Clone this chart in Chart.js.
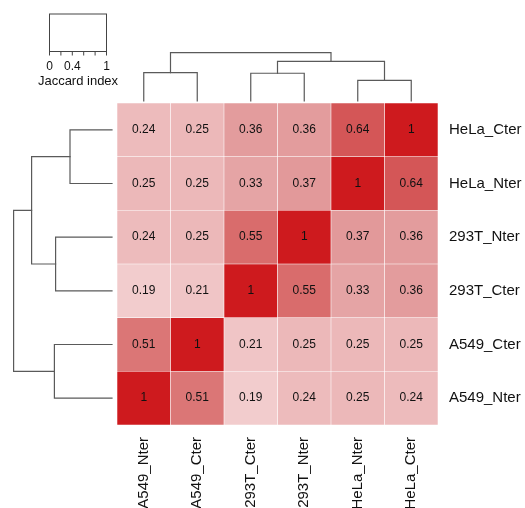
<!DOCTYPE html>
<html><head><meta charset="utf-8">
<script src="https://cdn.jsdelivr.net/npm/chart.js@4"></script>
<style>html,body{margin:0;padding:0;background:#fff;}canvas{display:block;}</style>
</head><body>
<canvas id="c" width="525" height="508" style="width:525px;height:508px"></canvas>
<script>
// ---- data ----
const columnLabels = ['A549_Nter','A549_Cter','293T_Cter','293T_Nter','HeLa_Nter','HeLa_Cter'];
const rowLabels    = ['A549_Nter','A549_Cter','293T_Cter','293T_Nter','HeLa_Nter','HeLa_Cter']; // bottom to top
const rowA549_Nter = [1, 0.51, 0.19, 0.24, 0.25, 0.24];
const rowA549_Cter = [0.51, 1, 0.21, 0.25, 0.25, 0.25];
const row293T_Cter = [0.19, 0.21, 1, 0.55, 0.33, 0.36];
const row293T_Nter = [0.24, 0.25, 0.55, 1, 0.37, 0.36];
const rowHeLa_Nter = [0.25, 0.25, 0.33, 0.37, 1, 0.64];
const rowHeLa_Cter = [0.24, 0.25, 0.36, 0.36, 0.64, 1];
const matrixRows = [rowA549_Nter, rowA549_Cter, row293T_Cter, row293T_Nter, rowHeLa_Nter, rowHeLa_Cter];
// dendrogram (leaves 0..5 in display order, merge k creates node 6+k)
const treeMerges  = [[4,5],[2,3],[0,1],[7,6],[8,9]];
const treeHeights = [0.35, 0.47, 0.48, 0.67, 0.82];
// colour key
const keyTicks = [0, 0.2, 0.4, 0.6, 0.8, 1];
const keyTickLabels = ['0', '', '0.4', '', '', '1'];
const keyTitle = 'Jaccard index';

// ---- styles ----
const colorStops = [[0.19,242,204,205],[0.25,236,184,185],[0.36,227,156,157],[0.55,217,108,108],[0.64,212,86,87],[1,206,26,30]];
function cellColor(v){
  if (v <= colorStops[0][0]) { const s=colorStops[0]; return `rgb(${s[1]},${s[2]},${s[3]})`; }
  for (let i=1;i<colorStops.length;i++){
    const a=colorStops[i-1], b=colorStops[i];
    if (v <= b[0]) {
      const t=(v-a[0])/(b[0]-a[0]);
      return `rgb(${Math.round(a[1]+(b[1]-a[1])*t)},${Math.round(a[2]+(b[2]-a[2])*t)},${Math.round(a[3]+(b[3]-a[3])*t)})`;
    }
  }
  const s=colorStops[colorStops.length-1]; return `rgb(${s[1]},${s[2]},${s[3]})`;
}
const FONT = '"Liberation Sans", Arial, Helvetica, sans-serif';
const TOP_PX_PER_UNIT = 59, LEFT_PX_PER_UNIT = 120, TREE_GAP = 2, LEFT_GAP = 5;

const datasets = matrixRows.map((vals, r) => ({
  label: rowLabels[r],
  data: vals.map(() => 1),
  values: vals,
  backgroundColor: vals.map(cellColor),
  borderColor: 'rgba(255,255,255,0.35)',
  borderWidth: 0.6,
  borderSkipped: false,
  categoryPercentage: 1,
  barPercentage: 1
}));

function drawTree(ctx, leafPos, heightToPix, vertical){
  const pos = [], hgt = [];
  for (let i=0;i<leafPos.length;i++){ pos[i]=leafPos[i]; hgt[i]=0; }
  ctx.save();
  ctx.strokeStyle = '#5a5a5a'; ctx.lineWidth = 1.2; ctx.lineCap = 'square';
  treeMerges.forEach((m, k) => {
    const id = leafPos.length + k, a = m[0], b = m[1], h = treeHeights[k];
    pos[id] = (pos[a] + pos[b]) / 2; hgt[id] = h;
    ctx.beginPath();
    if (!vertical) {
      ctx.moveTo(pos[a], heightToPix(hgt[a])); ctx.lineTo(pos[a], heightToPix(h));
      ctx.lineTo(pos[b], heightToPix(h)); ctx.lineTo(pos[b], heightToPix(hgt[b]));
    } else {
      ctx.moveTo(heightToPix(hgt[a]), pos[a]); ctx.lineTo(heightToPix(h), pos[a]);
      ctx.lineTo(heightToPix(h), pos[b]); ctx.lineTo(heightToPix(hgt[b]), pos[b]);
    }
    ctx.stroke();
  });
  ctx.restore();
}

const heatPlugin = {
  id: 'heatExtras',
  afterDatasetsDraw(chart){
    const ctx = chart.ctx, ca = chart.chartArea;
    const xs = chart.scales.x, ys = chart.scales.y;
    // cell values
    ctx.save();
    ctx.font = '12px ' + FONT; ctx.fillStyle = '#111'; ctx.textAlign = 'center'; ctx.textBaseline = 'middle';
    chart.data.datasets.forEach((ds, di) => {
      chart.getDatasetMeta(di).data.forEach((el, i) => {
        ctx.fillText(String(ds.values[i]), el.x, (el.y + el.base) / 2);
      });
    });
    ctx.restore();
    // top dendrogram
    const colPix = columnLabels.map((_, i) => xs.getPixelForValue(i));
    drawTree(ctx, colPix, h => ca.top - TREE_GAP - h * TOP_PX_PER_UNIT, false);
    // left dendrogram
    const rowPix = rowLabels.map((_, i) => ys.getPixelForValue(i + 0.5));
    drawTree(ctx, rowPix, h => ca.left - LEFT_GAP - h * LEFT_PX_PER_UNIT, true);
    // colour key
    const kx0 = 49.5, kx1 = 106.5, ky0 = 14, ky1 = 51.5;
    ctx.save();
    ctx.strokeStyle = '#444'; ctx.lineWidth = 1;
    ctx.strokeRect(kx0, ky0, kx1 - kx0, ky1 - ky0);
    ctx.font = '12px ' + FONT; ctx.fillStyle = '#111'; ctx.textAlign = 'center'; ctx.textBaseline = 'middle';
    keyTicks.forEach((t, i) => {
      const x = kx0 + t * (kx1 - kx0);
      ctx.beginPath(); ctx.moveTo(x, ky1); ctx.lineTo(x, ky1 + 4); ctx.stroke();
      if (keyTickLabels[i]) ctx.fillText(keyTickLabels[i], x, 66.5);
    });
    ctx.font = '13px ' + FONT;
    ctx.fillText(keyTitle, (kx0 + kx1) / 2, 81);
    ctx.restore();
  }
};

new Chart(document.getElementById('c'), {
  type: 'bar',
  data: { labels: columnLabels, datasets },
  options: {
    responsive: false, animation: false, devicePixelRatio: 1,
    layout: { padding: { left: 117, top: 103, right: 0, bottom: 0 } },
    plugins: { legend: { display: false }, tooltip: { enabled: false } },
    scales: {
      x: {
        type: 'category', stacked: true, position: 'bottom',
        grid: { display: false, drawTicks: false }, border: { display: false },
        ticks: { autoSkip: false, maxRotation: 90, minRotation: 90, padding: 12,
                 color: '#111', font: { family: FONT, size: 15 } },
        afterFit(s){ s.height = 83; }
      },
      y: {
        type: 'linear', stacked: true, position: 'right', min: 0, max: 6,
        grid: { display: false, drawTicks: false }, border: { display: false },
        afterBuildTicks(s){ s.ticks = rowLabels.map((_, i) => ({ value: i + 0.5 })); },
        ticks: { padding: 11, color: '#111', font: { family: FONT, size: 15 },
                 callback: (v) => rowLabels[Math.round(v - 0.5)] },
        afterFit(s){ s.width = 87; }
      }
    }
  },
  plugins: [heatPlugin]
});
</script>
</body></html>
